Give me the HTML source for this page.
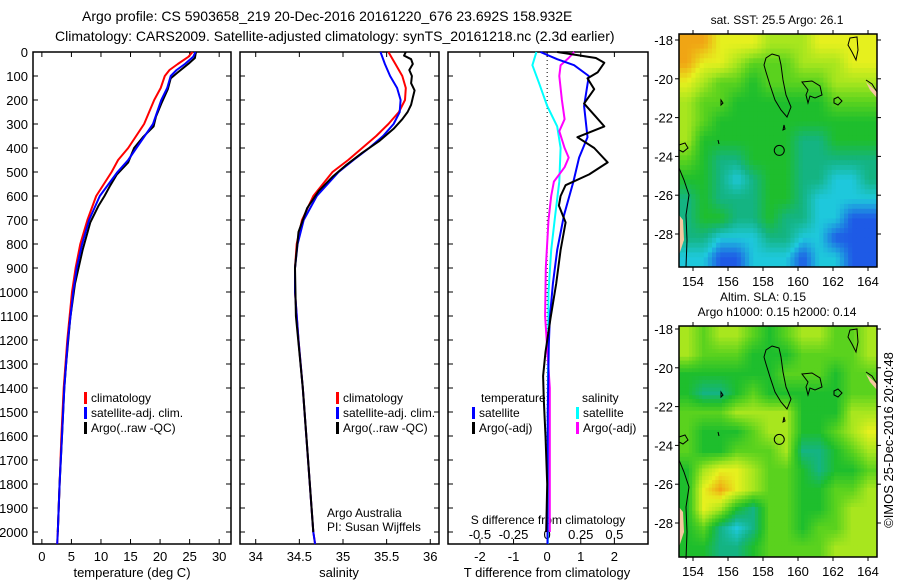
<!DOCTYPE html>
<html><head><meta charset="utf-8"><style>
body{margin:0;background:#fff;}
svg{display:block;font-family:"Liberation Sans",sans-serif;}
</style></head><body>
<svg id="c" width="900" height="580" viewBox="0 0 900 580"></svg>
<script>
// ---- data ----
const tDepth=[0,20,50,75,100,150,200,300,400,450,500,600,700,800,900,1000,1200,1400,1600,1800,2000,2050];
const tClim=[25.5,24.8,23.0,21.6,20.8,20.1,19.0,17.3,14.6,12.9,11.8,9.2,7.7,6.5,5.7,5.1,4.3,3.7,3.3,3.0,2.7,2.6];
const tSatClim=[26.0,25.6,24.2,22.8,21.8,21.2,20.2,18.8,16.0,14.6,12.8,9.8,8.0,6.8,5.9,5.3,4.4,3.8,3.4,3.0,2.7,2.6];
const argoDepth=[0,10,25,45,85,110,155,215,270,310,355,400,460,510,555,600,640,710,825,965,1110,1300,1400,1600,1800,2000];
const argoT=[26.1,26.0,25.9,25.0,23.0,21.8,21.3,20.2,19.3,18.9,17.1,15.6,14.6,12.7,11.6,10.6,9.6,8.2,6.9,5.6,4.8,4.1,3.8,3.4,3.0,2.7];
const sDepth=[0,50,100,150,200,250,300,350,400,450,500,600,700,800,900,1000,1200,1400,1600,1800,2000,2050];
const sClim=[35.52,35.60,35.68,35.72,35.71,35.64,35.52,35.38,35.22,35.06,34.88,34.66,34.53,34.47,34.45,34.45,34.49,34.54,34.58,34.62,34.66,34.68];
const sSatClim=[35.43,35.48,35.54,35.62,35.66,35.65,35.58,35.46,35.30,35.12,34.95,34.70,34.55,34.48,34.45,34.45,34.49,34.54,34.58,34.62,34.66,34.68];
const argoSDepth=[0,15,30,50,75,100,130,160,190,220,250,280,320,370,420,470,520,580,650,750,900,1100,1400,1700,2000];
const argoS=[35.72,35.70,35.78,35.80,35.76,35.79,35.78,35.82,35.80,35.78,35.74,35.68,35.58,35.42,35.22,35.04,34.88,34.72,34.59,34.49,34.45,34.46,34.54,34.60,34.66];
const tSatDiffDepth=[0,30,55,100,225,355,440,540,680,825,965,1110,1220,1500,2050];
const tSatDiff=[-0.2,0.3,0.8,1.24,1.1,1.2,0.95,0.78,0.5,0.3,0.17,0.08,0.05,0.02,0.01];
const tArgoDiffDepth=[0,25,45,85,110,155,215,270,310,355,400,460,510,555,600,640,710,825,965,1110,1250,1350,1450,1600,1800,2000];
const tArgoDiff=[0.3,1.45,1.7,1.5,1.2,1.4,1.1,1.45,1.7,0.9,1.4,1.8,1.25,0.55,0.4,0.35,0.55,0.4,0.27,0.1,-0.05,-0.12,-0.1,-0.05,0,-0.03];
const sSatDiffDepth=[0,55,130,225,310,400,540,680,825,1000,1500,2050];
const sSatDiff=[-0.08,-0.11,-0.06,0,0.075,0.1,0.09,0.06,0.03,0.01,0.005,0.005];
const sArgoDiffDepth=[0,25,55,100,200,280,330,400,440,480,540,600,700,900,1100,1400,1700,2000];
const sArgoDiff=[0.2,0.16,0.1,0.09,0.11,0.13,0.09,0.13,0.16,0.13,0.05,0.03,0.01,-0.01,-0.015,0.02,0.02,0.02];
const depthTicks=[0,100,200,300,400,500,600,700,800,900,1000,1100,1200,1300,1400,1500,1600,1700,1800,1900,2000];
const tTicks=[0,5,10,15,20,25,30];
const sTicks=[34,34.5,35,35.5,36];
const sTickLabels=["34","34.5","35","35.5","36"];
const dTTicks=[-2,-1,0,1,2];
const dSTicks=[-0.5,-0.25,0,0.25,0.5];
const dSTickLabels=["-0.5","-0.25","0","0.25","0.5"];
const lonTicks=[154,156,158,160,162,164];
const latTicks=[-18,-20,-22,-24,-26,-28];
// map levels 1(blue)..8(orange), rows north->south
const sstGrid=[
[8,8,7,7,7,6,6,6,7,7,7,7],[8,7,7,6,5,5,5,6,6,6,7,7],[7,6,5,5,4,5,5,5,5,6,6,6],
[6,5,5,4,4,4,4,4,4,5,5,5],[6,5,4,4,4,4,4,4,4,4,4,4],[6,4,4,4,4,4,4,3,3,4,4,4],
[5,4,3,3,4,4,4,3,3,3,3,3],[4,4,3,2,3,4,4,3,3,2,2,3],[3,4,3,3,3,4,4,3,2,2,2,2],
[3,4,4,3,3,4,3,3,2,2,1,1],[3,3,2,2,2,3,3,2,2,1,1,1],[2,2,1,1,2,2,2,1,2,2,1,1]];
const slaGrid=[
[6,5,6,6,5,4,5,6,6,5,5,6],[6,5,5,5,4,4,4,5,5,5,5,6],[4,4,4,4,4,4,5,5,5,4,5,5],
[4,3,3,4,5,4,4,4,4,4,5,5],[5,5,5,6,6,6,6,4,4,4,6,6],[5,4,4,4,5,6,6,4,4,5,6,7],
[5,4,4,5,5,5,6,3,3,4,5,6],[4,6,7,7,6,5,5,4,3,4,4,5],[4,7,8,7,6,5,5,4,4,5,5,6],
[4,7,6,4,3,5,5,4,4,5,6,6],[4,5,3,2,3,5,5,4,5,5,6,6],[4,4,3,3,4,5,5,5,5,6,6,6]];
const argoLon=158.93, argoLat=-23.69;

// ---- drawing ----
const NS='http://www.w3.org/2000/svg';
const svg=document.getElementById('c');
function mk(tag,attrs,parent){const e=document.createElementNS(NS,tag);for(const k in attrs)e.setAttribute(k,attrs[k]);(parent||svg).appendChild(e);return e;}
function txt(x,y,s,size,anchor,parent){const t=mk('text',{x:x,y:y,'font-size':size,'text-anchor':anchor||'start',fill:'#000'},parent);t.textContent=s;return t;}
const Y0=52,Y1=544,DMAX=2050;
const yD=d=>Y0+(d/DMAX)*(Y1-Y0);
function panel(name,x0,x1,xmin,xmax){
  const g=mk('g',{});
  
  
  const xf=v=>x0+(v-xmin)/(xmax-xmin)*(x1-x0);
  return {g,xf,x0,x1};
}
function frame(p,xt){
  mk('rect',{x:p.x0,y:Y0,width:p.x1-p.x0,height:Y1-Y0,fill:'none',stroke:'#000','stroke-width':1.5},p.g);
  depthTicks.forEach(d=>{const y=yD(d);mk('line',{x1:p.x0,y1:y,x2:p.x0+5,y2:y,stroke:'#000'},p.g);mk('line',{x1:p.x1,y1:y,x2:p.x1-5,y2:y,stroke:'#000'},p.g);});
  xt.forEach(v=>{const x=p.xf(v);mk('line',{x1:x,y1:Y0,x2:x,y2:Y0+5,stroke:'#000'},p.g);mk('line',{x1:x,y1:Y1,x2:x,y2:Y1-5,stroke:'#000'},p.g);});
}
function line(p,ds,vs,color,name,w){
  const pts=ds.map((d,i)=>p.xf(vs[i]).toFixed(1)+','+yD(d).toFixed(1)).join(' ');
  const l=mk('polyline',{points:pts,fill:'none',stroke:color,'stroke-width':w||2,'stroke-linejoin':'round'},p.g);
  
  
}
const t1=txt(82,21,'Argo profile: CS 5903658_219 20-Dec-2016 20161220_676 23.692S 158.932E',14);

const t2=txt(55,41,'Climatology: CARS2009. Satellite-adjusted climatology: synTS_20161218.nc (2.3d earlier)',14);

depthTicks.forEach(d=>{const t=txt(28,yD(d)+5,String(d),13,'end');});

const p1=panel('temperature-panel',33,231,-1.5,32);
frame(p1,tTicks);
tTicks.forEach(v=>{const t=txt(p1.xf(v),561,String(v),13,'middle',p1.g);});
txt(132,577,'temperature (deg C)',13,'middle',p1.g);
line(p1,tDepth,tClim,'#ff0000','temp-climatology-line');
line(p1,argoDepth,argoT,'#000','temp-argo-line');
line(p1,tDepth,tSatClim,'#0000ff','temp-satellite-clim-line');
function legend(p,x,y,items){
  items.forEach((it,i)=>{const yy=y+i*15;mk('rect',{x:x,y:yy-10,width:3,height:12,fill:it[1]},p.g);const t=txt(x+7,yy,it[0],12,'start',p.g);});
}
legend(p1,84,402,[['climatology','#ff0000'],['satellite-adj. clim.','#0000ff'],['Argo(..raw -QC)','#000']]);

const p2=panel('salinity-panel',240,439,33.82,36.1);
frame(p2,sTicks);
sTicks.forEach((v,i)=>{const t=txt(p2.xf(v),561,sTickLabels[i],13,'middle',p2.g);});
txt(339,577,'salinity',13,'middle',p2.g);
line(p2,sDepth,sClim,'#ff0000','sal-climatology-line');
line(p2,sDepth,sSatClim,'#0000ff','sal-satellite-clim-line');
line(p2,argoSDepth,argoS,'#000','sal-argo-line');
legend(p2,336,402,[['climatology','#ff0000'],['satellite-adj. clim.','#0000ff'],['Argo(..raw -QC)','#000']]);
txt(327,517,'Argo Australia',12,'start',p2.g);
txt(327,531,'PI: Susan Wijffels',12,'start',p2.g);

const p3=panel('difference-panel',448,648,-2.95,3.0);
frame(p3,dTTicks);
const xS=v=>p3.xf(v*4);
mk('line',{x1:p3.xf(0),y1:Y0,x2:p3.xf(0),y2:Y1,stroke:'#000','stroke-dasharray':'1,3'},p3.g);
dTTicks.forEach(v=>{const t=txt(p3.xf(v),561,String(v),13,'middle',p3.g);});
dSTicks.forEach((v,i)=>{const t=txt(xS(v),539,dSTickLabels[i],13,'middle',p3.g);});
txt(548,524,'S difference from climatology',12,'middle',p3.g);
txt(547,577,'T difference from climatology',13,'middle',p3.g);
line({g:p3.g,xf:v=>p3.xf(v*4)},sSatDiffDepth,sSatDiff,'#00ffff','s-satellite-diff-line');
line({g:p3.g,xf:v=>p3.xf(v*4)},sArgoDiffDepth,sArgoDiff,'#ff00ff','s-argo-diff-line');
line(p3,tSatDiffDepth,tSatDiff,'#0000ff','t-satellite-diff-line');
line(p3,tArgoDiffDepth,tArgoDiff,'#000','t-argo-diff-line');
txt(481,402,'temperature',12,'start',p3.g);
legend(p3,472,417,[['satellite','#0000ff'],['Argo(-adj)','#000']]);
txt(582,402,'salinity',12,'start',p3.g);
legend(p3,576,417,[['satellite','#00ffff'],['Argo(-adj)','#ff00ff']]);

// maps
const PALC=[[30,90,230],[30,200,220],[20,180,130],[30,190,45],[90,210,30],[168,230,30],[230,240,30],[240,165,20]];
function colorFor(v){v=Math.max(1,Math.min(8,v));const i=Math.min(6,Math.floor(v-1)),f=v-1-i;const a=PALC[i],b=PALC[i+1];return 'rgb('+a.map((c,k)=>Math.round(c+(b[k]-c)*f)).join(',')+')';}
function sample(grid,gy,gx){const R=grid.length,C=grid[0].length;gy=Math.max(0,Math.min(R-1,gy));gx=Math.max(0,Math.min(C-1,gx));const y0=Math.floor(gy),x0=Math.floor(gx),y1=Math.min(R-1,y0+1),x1=Math.min(C-1,x0+1),fy=gy-y0,fx=gx-x0;return grid[y0][x0]*(1-fx)*(1-fy)+grid[y0][x1]*fx*(1-fy)+grid[y1][x0]*(1-fx)*fy+grid[y1][x1]*fx*fy;}
function map(name,top,bottom,grid,lat18y,title,sub){
  const g=mk('g',{});
  
  
  const L=679,R=877;
  const lonX=lon=>693+(lon-154)*17.5;
  const rows=grid.length,cols=grid[0].length,n=sub;
  const cw=(R-L)/(cols*n),ch=(bottom-top)/(rows*n);
  for(let r=0;r<rows*n;r++)for(let c=0;c<cols*n;c++){
    const v=sample(grid,(r+0.5)/n-0.5,(c+0.5)/n-0.5);
    const cell=mk('rect',{x:(L+c*cw).toFixed(2),y:(top+r*ch).toFixed(2),width:(cw+0.4).toFixed(2),height:(ch+0.4).toFixed(2),fill:colorFor(v)},g);
    
    
  }
  const dy=top-34;
  const coast=[
   'M772,54 L779,56 L781,65 L783,80 L786,95 L791,107 L787,117 L781,110 L775,100 L770,85 L766,72 L764,65 L766,58 Z',
   'M802,82 L812,81 L820,86 L822,95 L815,98 L810,96 L808,103 L806,95 L808,90 Z',
   'M834,99 L838,97 L842,101 L838,105 L834,103 Z',
   'M850,38 L857,37 L858,50 L856,60 L852,52 L848,45 Z',
   'M866,80 L872,84 L877,92',
   'M679,145 L685,143 L688,148 L683,152 L679,150',
   'M679,168 L684,180 L689,195 L686,215 L687,240 L686,267',
   'M721,100 L723,103 L721,105 Z','M784,125 L785,129 L783,130 Z','M718,140 L719,144 Z'];
  mk('path',{d:'M866,82 L877,92 L877,98 L870,90 Z',fill:'#f5c8a0',transform:'translate(0,'+dy+')'},g);
  mk('path',{d:'M679,215 L683,220 L684,240 L679,255 Z',fill:'#f5c8a0',transform:'translate(0,'+dy+')'},g);
  coast.forEach(d=>{const c=mk('path',{d:d,fill:'none',stroke:'#000','stroke-width':1,transform:'translate(0,'+dy+')'},g);});
  const ax=lonX(argoLon), ay=lat18y+(-18-argoLat)*19.4;
  const m=mk('circle',{cx:ax,cy:ay,r:5,fill:'none',stroke:'#000','stroke-width':1},g);
  
  mk('rect',{x:L,y:top,width:R-L,height:bottom-top,fill:'none',stroke:'#000','stroke-width':1.5},g);
  lonTicks.forEach(v=>{const x=lonX(v);mk('line',{x1:x,y1:top,x2:x,y2:top-4,stroke:'#000'},g);mk('line',{x1:x,y1:bottom,x2:x,y2:bottom+4,stroke:'#000'},g);const t=txt(x,bottom+19,String(v),13,'middle',g);});
  latTicks.forEach(v=>{const y=lat18y+(-18-v)*19.4;mk('line',{x1:L,y1:y,x2:L-4,y2:y,stroke:'#000'},g);mk('line',{x1:R,y1:y,x2:R+4,y2:y,stroke:'#000'},g);const t=txt(L-6,y+5,String(v),13,'end',g);});
  title.forEach(s=>{const t=txt(s[1],s[2],s[0],12,'middle',g);});
}
map('sst-map',34,267,sstGrid,40,[['sat. SST: 25.5 Argo: 26.1',777,24]],4);
map('sla-map',326,557,slaGrid,329,[['Altim. SLA: 0.15',763,301],['Argo h1000: 0.15 h2000: 0.14',777,316]],5);
const cr=txt(0,0,'©IMOS 25-Dec-2016 20:40:48',13,'middle');
cr.setAttribute('transform','translate(893,440) rotate(-90)');


</script>
</body></html>
